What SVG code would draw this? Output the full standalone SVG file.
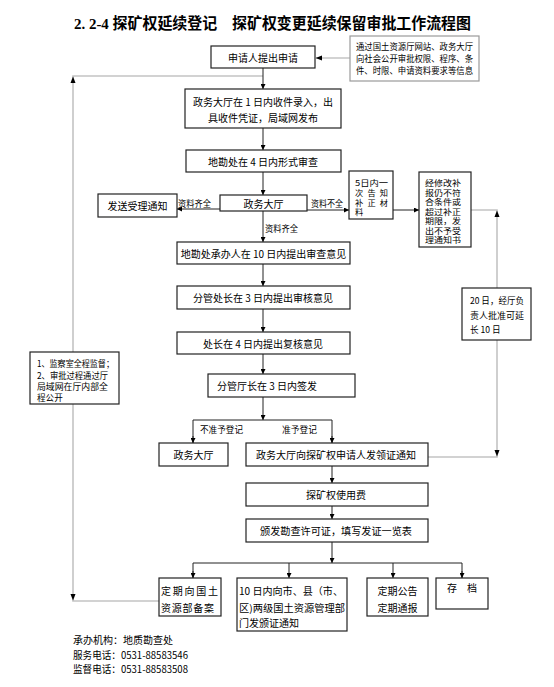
<svg xmlns="http://www.w3.org/2000/svg" width="554" height="687" viewBox="0 0 554 687">
<style>
text{font-family:"Noto Sans CJK SC","Liberation Sans",sans-serif;fill:#000;dominant-baseline:central}
.t{font-size:10px}
.m{text-anchor:middle}
.s{font-size:8.6px}
.x{font-size:8.2px}
.b{fill:#fff;stroke:#222;stroke-width:1.2}
.g{fill:#fff;stroke:#9a9a9a;stroke-width:1.2}
.c{fill:none;stroke:#222;stroke-width:1}
.cg{fill:none;stroke:#c4c4c4;stroke-width:1.6}
.ah{fill:#000}
.title{font-family:"Liberation Serif","Noto Sans CJK SC",serif;font-size:15.5px;font-weight:bold}
</style>
<defs>
<marker id="a" viewBox="0 0 10 10" refX="10" refY="5" markerWidth="6" markerHeight="5" orient="auto" markerUnits="userSpaceOnUse"><path d="M0,0L10,5L0,10z" fill="#000"/></marker>
</defs>
<rect width="554" height="687" fill="#fff"/>
<text class="title" x="74" y="23" textLength="397" lengthAdjust="spacingAndGlyphs">2. 2-4 探矿权延续登记&#12288;探矿权变更延续保留审批工作流程图</text>

<g id="connectors">
<path class="cg" d="M159,601H73V76H263"/>
<polygon class="ah" points="73,76.5 70.5,83 75.5,83"/>
<polygon class="ah" points="73,600.5 70.5,594 75.5,594"/>
<path class="cg" d="M471,210H497V457H428"/>
<polygon class="ah" points="497,210.5 494.5,217 499.5,217"/>
<polygon class="ah" points="497,456.5 494.5,450 499.5,450"/>
<path class="cg" d="M350,58H316"/>
<polygon class="ah" points="315.5,58 322,55.5 322,60.5"/>
<path class="c" d="M263,68V89" marker-end="url(#a)"/>
<path class="c" d="M263,128V150" marker-end="url(#a)"/>
<path class="c" d="M263,172V195" marker-end="url(#a)"/>
<path class="c" d="M220,209H177" marker-end="url(#a)"/>
<path class="c" d="M307,210H349" marker-end="url(#a)"/>
<path class="c" d="M393,210H419" marker-end="url(#a)"/>
<path class="c" d="M263,211V242" marker-end="url(#a)"/>
<path class="c" d="M263,264V286" marker-end="url(#a)"/>
<path class="c" d="M263,309V332" marker-end="url(#a)"/>
<path class="c" d="M263,354V374" marker-end="url(#a)"/>
<path class="c" d="M263,397V420" marker-end="url(#a)"/>
<path class="c" d="M193,443V420H332V443"/>
<path class="c" d="M193,436V443" marker-end="url(#a)"/>
<path class="c" d="M332,436V443" marker-end="url(#a)"/>
<path class="c" d="M332,466V483" marker-end="url(#a)"/>
<path class="c" d="M332,506V519" marker-end="url(#a)"/>
<path class="c" d="M332,542V563" marker-end="url(#a)"/>
<path class="c" d="M193,578V563H462V578"/>
<path class="c" d="M193,571V578" marker-end="url(#a)"/>
<path class="c" d="M289,563V578" marker-end="url(#a)"/>
<path class="c" d="M393,563V578" marker-end="url(#a)"/>
<path class="c" d="M462,571V578" marker-end="url(#a)"/>
<text class="s" x="178" y="203" textLength="33" lengthAdjust="spacingAndGlyphs">资料齐全</text>
<text class="s" x="311" y="203" textLength="32" lengthAdjust="spacingAndGlyphs">资料不全</text>
<text class="s" x="265" y="228" textLength="33" lengthAdjust="spacingAndGlyphs">资料齐全</text>
<text class="s" x="200" y="429" textLength="43" lengthAdjust="spacingAndGlyphs">不准予登记</text>
<text class="s" x="282" y="429" textLength="35" lengthAdjust="spacingAndGlyphs">准予登记</text>
</g>

<g id="n-apply"><rect class="b" x="211" y="46" width="104" height="22"/><text class="t m" x="263" y="57">申请人提出申请</text></g>
<g id="n-info"><rect class="g" x="350" y="36" width="129" height="45"/>
<text class="s" x="356" y="46" textLength="117" lengthAdjust="spacingAndGlyphs">通过国土资源厅网站、政务大厅</text>
<text class="s" x="356" y="58" textLength="117" lengthAdjust="spacingAndGlyphs">向社会公开审批权限、程序、条</text>
<text class="s" x="356" y="70" textLength="117" lengthAdjust="spacingAndGlyphs">件、时限、申请资料要求等信息</text></g>
<g id="n-receive"><rect class="b" x="185" y="89" width="156" height="39"/>
<text class="t m" x="263" y="101">政务大厅在 1 日内收件录入，出</text>
<text class="t m" x="263" y="117">具收件凭证，局域网发布</text></g>
<g id="n-form"><rect class="b" x="186" y="150" width="155" height="22"/><text class="t m" x="263" y="161">地勘处在 4 日内形式审查</text></g>
<g id="n-hall1"><rect class="b" x="220" y="195" width="87" height="16"/><text class="t m" x="263.5" y="203">政务大厅</text></g>
<g id="n-notice"><rect class="b" x="98" y="194" width="79" height="23"/><text class="t m" x="137.5" y="205.5">发送受理通知</text></g>
<g id="n-supp"><rect class="b" x="349" y="171" width="44" height="48"/>
<text class="x"><tspan x="355" y="181.5" textLength="33" lengthAdjust="spacingAndGlyphs">5日内一</tspan><tspan x="355" y="191.5" textLength="33" lengthAdjust="spacing">次告知</tspan><tspan x="355" y="201.5" textLength="33" lengthAdjust="spacing">补正材</tspan><tspan x="355" y="211">料</tspan></text></g>
<g id="n-reject"><rect class="b" x="419" y="172" width="52" height="75"/>
<text class="x"><tspan x="425" y="182" textLength="36" lengthAdjust="spacingAndGlyphs">经修改补</tspan><tspan x="425" y="191.5" textLength="36" lengthAdjust="spacingAndGlyphs">报仍不符</tspan><tspan x="425" y="201" textLength="36" lengthAdjust="spacingAndGlyphs">合条件或</tspan><tspan x="425" y="210.5" textLength="36" lengthAdjust="spacingAndGlyphs">超过补正</tspan><tspan x="425" y="220" textLength="36" lengthAdjust="spacingAndGlyphs">期限，发</tspan><tspan x="425" y="229.5" textLength="36" lengthAdjust="spacingAndGlyphs">出不予受</tspan><tspan x="425" y="239" textLength="36" lengthAdjust="spacingAndGlyphs">理通知书</tspan></text></g>
<g id="n-review"><rect class="b" x="177" y="242" width="173" height="22"/><text class="t m" x="263.5" y="253">地勘处承办人在 10 日内提出审查意见</text></g>
<g id="n-audit"><rect class="b" x="177" y="286" width="173" height="23"/><text class="t m" x="263" y="297.5">分管处长在 3 日内提出审核意见</text></g>
<g id="n-recheck"><rect class="b" x="177" y="332" width="173" height="22"/><text class="t m" x="263" y="343">处长在 4 日内提出复核意见</text></g>
<g id="n-sign"><rect class="b" x="208" y="374" width="147" height="23"/><text class="t" x="217" y="385.5">分管厅长在 3 日内签发</text></g>
<g id="n-supervise"><rect class="b" x="30" y="352" width="89" height="52"/>
<text class="s" x="37" y="363" textLength="77" lengthAdjust="spacingAndGlyphs">1、监察室全程监督；</text>
<text class="s" x="37" y="375" textLength="71" lengthAdjust="spacingAndGlyphs">2、审批过程通过厅</text>
<text class="s" x="37" y="386" textLength="71" lengthAdjust="spacingAndGlyphs">局域网在厅内部全</text>
<text class="s" x="37" y="397">程公开</text></g>
<g id="n-extend"><rect class="b" x="462" y="288" width="69" height="52"/>
<text class="s" x="470" y="300" textLength="54" lengthAdjust="spacingAndGlyphs">20 日，经厅负</text>
<text class="s" x="470" y="315" textLength="54" lengthAdjust="spacingAndGlyphs">责人批准可延</text>
<text class="s" x="470" y="329">长 10 日</text></g>
<g id="n-hall2"><rect class="b" x="159" y="443" width="69" height="23"/><text class="t m" x="193.5" y="454.5">政务大厅</text></g>
<g id="n-cert-notice"><rect class="b" x="246" y="443" width="182" height="23"/><text class="t m" x="336" y="454.5" textLength="160" lengthAdjust="spacingAndGlyphs">政务大厅向探矿权申请人发领证通知</text></g>
<g id="n-fee"><rect class="b" x="246" y="483" width="182" height="23"/><text class="t m" x="336" y="494.5">探矿权使用费</text></g>
<g id="n-issue"><rect class="b" x="246" y="519" width="182" height="23"/><text class="t m" x="336" y="530.5" textLength="152" lengthAdjust="spacingAndGlyphs">颁发勘查许可证，填写发证一览表</text></g>
<g id="n-record"><rect class="b" x="159" y="578" width="62" height="38"/>
<text class="t" x="161" y="590" textLength="57" lengthAdjust="spacing">定期向国土</text>
<text class="t" x="161" y="607" textLength="53" lengthAdjust="spacing">资源部备案</text></g>
<g id="n-local"><rect class="b" x="237" y="578" width="110" height="53"/>
<text class="t" x="239" y="590" textLength="104" lengthAdjust="spacingAndGlyphs">10 日内向市、县（市、</text>
<text class="t" x="239" y="607" textLength="106" lengthAdjust="spacingAndGlyphs">区)两级国土资源管理部</text>
<text class="t" x="239" y="622">门发颁证通知</text></g>
<g id="n-publish"><rect class="b" x="367" y="578" width="61" height="38"/>
<text class="t m" x="397.5" y="590">定期公告</text>
<text class="t m" x="397.5" y="607">定期通报</text></g>
<g id="n-archive"><rect class="b" x="436" y="578" width="52" height="31"/><text class="t m" x="462" y="587">存　档</text></g>

<g id="footer">
<text class="t" x="73" y="639">承办机构：地质勘查处</text>
<text class="t" x="73" y="654" textLength="115" lengthAdjust="spacingAndGlyphs">服务电话：0531-88583546</text>
<text class="t" x="73" y="668" textLength="115" lengthAdjust="spacingAndGlyphs">监督电话：0531-88583508</text>
</g>
</svg>
